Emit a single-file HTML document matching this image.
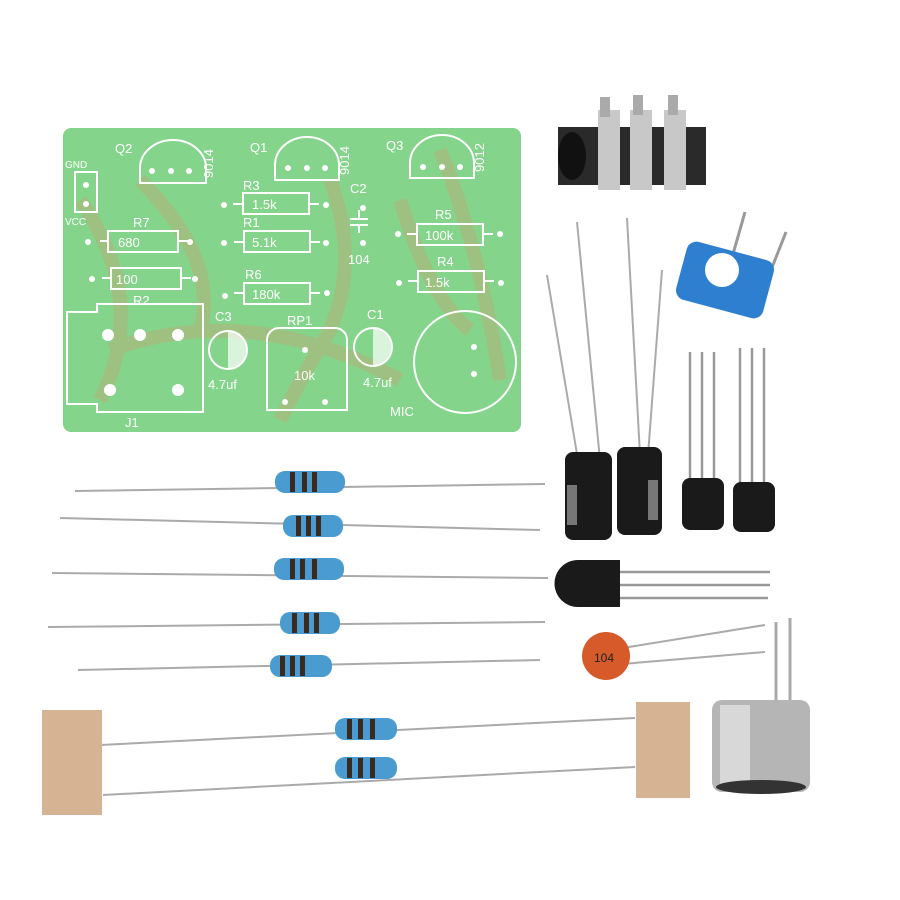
<!DOCTYPE html>
<html><head><meta charset="utf-8"><style>
html,body{margin:0;padding:0;background:#fff}
svg{display:block}
text{font-family:"Liberation Sans",sans-serif;fill:#fff}
</style></head><body>
<svg width="900" height="900" viewBox="0 0 900 900" xmlns="http://www.w3.org/2000/svg">
<rect width="900" height="900" fill="#fff"/>
<!-- PCB -->
<rect x="63" y="128" width="458" height="304" rx="8" fill="#84d58b"/>
<g stroke="#b5b07a" stroke-width="14" fill="none" opacity="0.55">
<path d="M80 200 Q150 300 100 400"/><path d="M140 180 Q220 260 200 330"/><path d="M330 180 Q360 260 330 330 Q300 380 280 420"/><path d="M400 200 Q430 300 470 330"/><path d="M110 350 Q250 300 400 380"/><path d="M440 150 Q480 250 500 380"/>
</g>
<g stroke="#fff" stroke-width="2" fill="none">
<path d="M140 183 v-15 a33 28 0 0 1 66 0 v15 z"/>
<path d="M275 180 v-15 a32 28 0 0 1 64 0 v15 z"/>
<path d="M410 178 v-15 a32 28 0 0 1 64 0 v15 z"/>
<rect x="75" y="172" width="22" height="40"/>
<rect x="108" y="231" width="70" height="21"/><path d="M100 241h8M178 241h10"/>
<rect x="111" y="268" width="70" height="21"/><path d="M102 278h9M181 278h10"/>
<rect x="243" y="193" width="66" height="21"/><path d="M233 204h10M309 204h10"/>
<rect x="244" y="231" width="66" height="21"/><path d="M234 242h10M310 242h10"/>
<rect x="244" y="283" width="66" height="21"/><path d="M234 293h10M310 293h10"/>
<rect x="417" y="224" width="66" height="21"/><path d="M407 234h10M483 234h10"/>
<rect x="418" y="271" width="66" height="21"/><path d="M408 281h10M484 281h10"/>
<path d="M350 219h18M350 225h18M359 210v9M359 225v8"/>
<path d="M67 312h30v-8h106v108h-106v-8h-30z"/>
<circle cx="228" cy="350" r="19"/>
<circle cx="373" cy="347" r="19"/>
<path d="M267 410v-70a12 12 0 0 1 12-12h56a12 12 0 0 1 12 12v70z"/>
<circle cx="465" cy="362" r="51"/>
</g>
<path d="M228 331a19 19 0 0 1 0 38z" fill="#fff" opacity="0.7"/>
<path d="M373 328a19 19 0 0 1 0 38z" fill="#fff" opacity="0.7"/>
<g fill="#fff">
<circle cx="152" cy="171" r="3"/><circle cx="171" cy="171" r="3"/><circle cx="189" cy="171" r="3"/>
<circle cx="288" cy="168" r="3"/><circle cx="307" cy="168" r="3"/><circle cx="325" cy="168" r="3"/>
<circle cx="423" cy="167" r="3"/><circle cx="442" cy="167" r="3"/><circle cx="460" cy="167" r="3"/>
<circle cx="86" cy="185" r="3"/><circle cx="86" cy="204" r="3"/>
<circle cx="88" cy="242" r="3"/><circle cx="190" cy="242" r="3"/>
<circle cx="92" cy="279" r="3"/><circle cx="195" cy="279" r="3"/>
<circle cx="224" cy="205" r="3"/><circle cx="326" cy="205" r="3"/>
<circle cx="224" cy="243" r="3"/><circle cx="326" cy="243" r="3"/>
<circle cx="225" cy="296" r="3"/><circle cx="327" cy="293" r="3"/>
<circle cx="363" cy="208" r="3"/><circle cx="363" cy="243" r="3"/>
<circle cx="398" cy="234" r="3"/><circle cx="500" cy="234" r="3"/>
<circle cx="399" cy="283" r="3"/><circle cx="501" cy="283" r="3"/>
<circle cx="108" cy="335" r="6"/><circle cx="140" cy="335" r="6"/><circle cx="178" cy="335" r="6"/>
<circle cx="110" cy="390" r="6"/><circle cx="178" cy="390" r="6"/>
<circle cx="305" cy="350" r="3"/><circle cx="285" cy="402" r="3"/><circle cx="325" cy="402" r="3"/>
<circle cx="474" cy="347" r="3"/><circle cx="474" cy="374" r="3"/>
</g>
<g font-size="13">
<text x="115" y="153">Q2</text><text x="250" y="152">Q1</text><text x="386" y="150">Q3</text>
<text x="243" y="190">R3</text><text x="243" y="227">R1</text><text x="133" y="227">R7</text>
<text x="245" y="279">R6</text><text x="133" y="305">R2</text><text x="435" y="219">R5</text>
<text x="437" y="266">R4</text><text x="350" y="193">C2</text><text x="348" y="264">104</text>
<text x="215" y="321">C3</text><text x="367" y="319">C1</text><text x="287" y="325">RP1</text>
<text x="208" y="389">4.7uf</text><text x="363" y="387">4.7uf</text><text x="294" y="380">10k</text>
<text x="390" y="416">MIC</text><text x="125" y="427">J1</text>
<text x="118" y="247">680</text><text x="116" y="284">100</text>
<text x="252" y="209">1.5k</text><text x="252" y="247">5.1k</text><text x="252" y="299">180k</text>
<text x="425" y="240">100k</text><text x="425" y="287">1.5k</text>
<text x="65" y="168" font-size="10">GND</text><text x="65" y="225" font-size="10">VCC</text>
</g>
<g font-size="13"><text transform="translate(213,178) rotate(-90)">9014</text><text transform="translate(349,175) rotate(-90)">9014</text><text transform="translate(484,172) rotate(-90)">9012</text></g>
<!-- audio jack -->
<rect x="558" y="127" width="148" height="58" fill="#2a2a2a"/>
<ellipse cx="572" cy="156" rx="14" ry="24" fill="#111"/>
<rect x="598" y="110" width="22" height="80" fill="#c8c8c8"/><rect x="630" y="110" width="22" height="80" fill="#c8c8c8"/><rect x="664" y="110" width="22" height="80" fill="#c8c8c8"/>
<rect x="600" y="97" width="10" height="20" fill="#aaa"/><rect x="633" y="95" width="10" height="20" fill="#aaa"/><rect x="668" y="95" width="10" height="20" fill="#aaa"/>
<!-- pot -->
<path d="M720 300 L745 212 M760 298 L786 232" stroke="#999" stroke-width="3"/>
<rect x="680" y="250" width="90" height="60" rx="10" fill="#2f7fd0" transform="rotate(15 725 280)"/>
<circle cx="722" cy="270" r="17" fill="#fff"/>
<!-- electrolytic caps -->
<path d="M578 460L547 275M600 460L577 222M640 455L627 218M648 455L662 270" stroke="#aaa" stroke-width="2"/>
<rect x="565" y="452" width="47" height="88" rx="8" fill="#1a1a1a"/>
<rect x="617" y="447" width="45" height="88" rx="8" fill="#1a1a1a"/>
<rect x="567" y="485" width="10" height="40" fill="#777"/><rect x="648" y="480" width="10" height="40" fill="#777"/>
<!-- transistors upright -->
<path d="M690 485V352M702 485V352M714 485V352M740 490V348M752 490V348M764 490V348" stroke="#999" stroke-width="2.5"/>
<rect x="682" y="478" width="42" height="52" rx="8" fill="#1a1a1a"/>
<rect x="733" y="482" width="42" height="50" rx="8" fill="#1a1a1a"/>
<!-- transistor horizontal -->
<path d="M620 572H770M620 585H770M620 598H768" stroke="#999" stroke-width="2.5"/>
<path d="M578 560h42v47h-42a23 23 0 0 1 0-47z" fill="#1a1a1a"/>
<!-- ceramic cap -->
<path d="M610 650L765 625M610 665L765 652" stroke="#aaa" stroke-width="2"/>
<circle cx="606" cy="656" r="24" fill="#d65a2a"/>
<text x="594" y="662" font-size="12" fill="#222" style="fill:#222">104</text>
<!-- mic -->
<path d="M776 700V622M790 700V618" stroke="#aaa" stroke-width="3"/>
<rect x="712" y="700" width="98" height="92" rx="10" fill="#b5b5b5"/>
<rect x="720" y="705" width="30" height="80" fill="#d8d8d8"/>
<ellipse cx="761" cy="787" rx="45" ry="7" fill="#333"/>
<!-- loose resistors -->
<g stroke="#aaa" stroke-width="2">
<path d="M75 491L545 484"/><path d="M60 518L540 530"/><path d="M52 573L548 578"/><path d="M48 627L545 622"/><path d="M78 670L540 660"/>
<path d="M100 745L635 718"/><path d="M103 795L635 767"/>
</g>
<g fill="#4a9cd0">
<rect x="275" y="471" width="70" height="22" rx="10"/>
<rect x="283" y="515" width="60" height="22" rx="10"/>
<rect x="274" y="558" width="70" height="22" rx="10"/>
<rect x="280" y="612" width="60" height="22" rx="10"/>
<rect x="270" y="655" width="62" height="22" rx="10"/>
<rect x="335" y="718" width="62" height="22" rx="10"/>
<rect x="335" y="757" width="62" height="22" rx="10"/>
</g>
<g fill="#3a2a20">
<rect x="290" y="472" width="5" height="20"/><rect x="302" y="472" width="5" height="20"/><rect x="312" y="472" width="5" height="20"/>
<rect x="296" y="516" width="5" height="20"/><rect x="306" y="516" width="5" height="20"/><rect x="316" y="516" width="5" height="20"/>
<rect x="290" y="559" width="5" height="20"/><rect x="300" y="559" width="5" height="20"/><rect x="312" y="559" width="5" height="20"/>
<rect x="292" y="613" width="5" height="20"/><rect x="304" y="613" width="5" height="20"/><rect x="314" y="613" width="5" height="20"/>
<rect x="280" y="656" width="5" height="20"/><rect x="290" y="656" width="5" height="20"/><rect x="300" y="656" width="5" height="20"/>
<rect x="347" y="719" width="5" height="20"/><rect x="358" y="719" width="5" height="20"/><rect x="370" y="719" width="5" height="20"/>
<rect x="347" y="758" width="5" height="20"/><rect x="358" y="758" width="5" height="20"/><rect x="370" y="758" width="5" height="20"/>
</g>
<!-- tape -->
<rect x="42" y="710" width="60" height="105" fill="#d6b392"/>
<rect x="636" y="702" width="54" height="96" fill="#d6b392"/>
</svg>
</body></html>
